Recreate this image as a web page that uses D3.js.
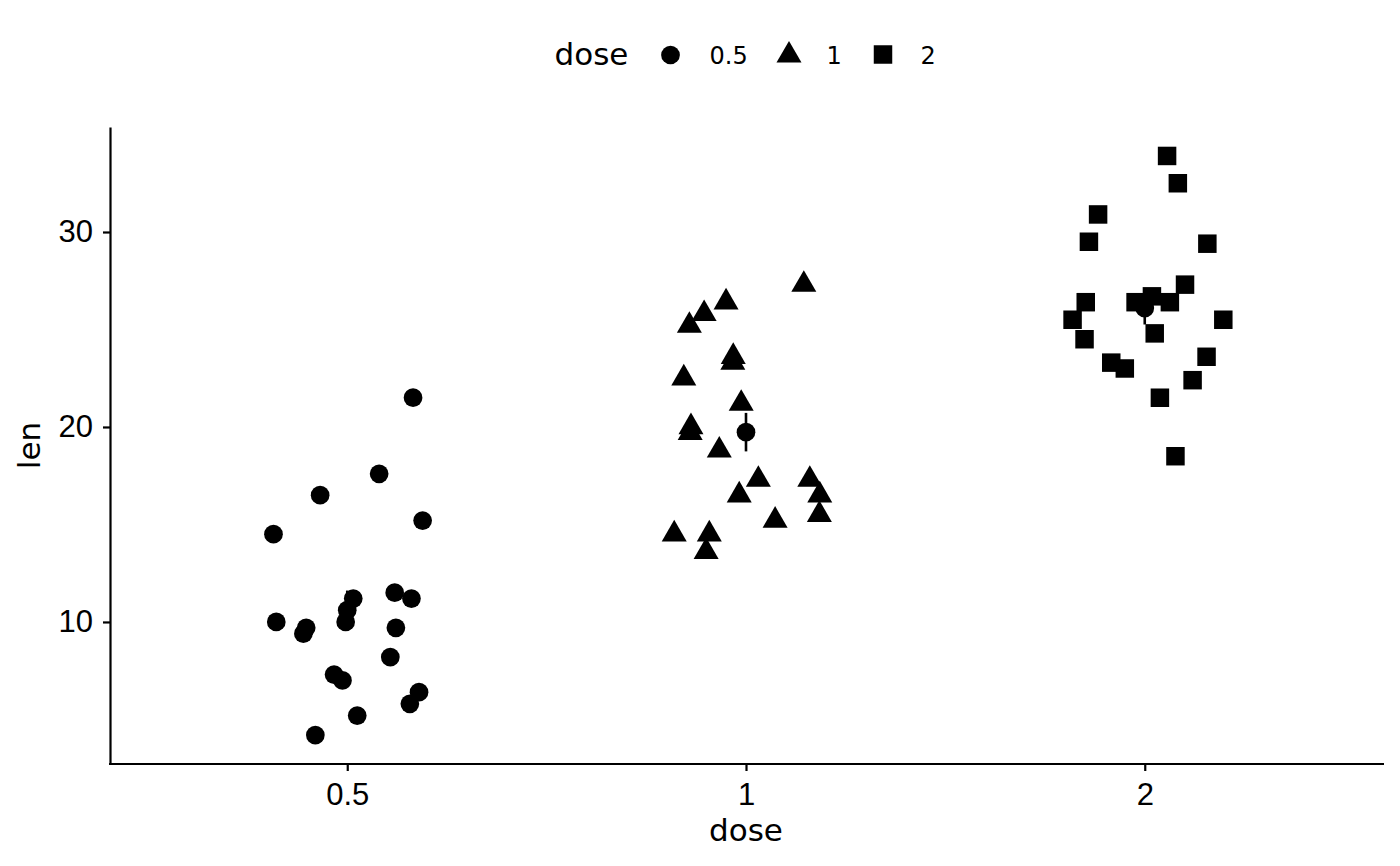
<!DOCTYPE html>
<html>
<head>
<meta charset="utf-8">
<script src="https://cdn.jsdelivr.net/npm/d3@7"></script>
<style>
  body { margin: 0; background: #fff; }
  svg { display: block; font-family: "DejaVu Sans", sans-serif; }
  .axis .domain, .axis .tick line { stroke: #000; stroke-width: 2.2; }
  .axis text { font-size: 31px; fill: #000; }
</style>
</head>
<body>
<svg id="chart" width="1400" height="866"></svg>
<script>
// dose categories
const doses = ["0.5", "1", "2"];

// tooth length per dose
const lenHalf = [21.5, 17.6, 16.5, 15.2, 14.5, 11.5, 11.2, 11.2, 10, 10, 9.7, 9.4, 9.7, 8.2, 7.3, 7.0, 6.4, 5.8, 5.2, 4.2];
const lenOne = [27.3, 26.4, 25.8, 25.2, 23.6, 23.3, 22.5, 21.2, 20, 19.7, 18.8, 17.3, 17.3, 16.5, 16.5, 15.2, 15.5, 14.5, 14.5, 13.6];
const lenTwo = [33.9, 32.5, 30.9, 29.5, 29.4, 27.3, 26.7, 26.4, 26.4, 26.4, 25.5, 25.5, 24.5, 24.8, 23.3, 23, 23.6, 22.4, 21.5, 18.5];

// horizontal jitter of each point (fraction of a category step)
const jitHalf = [0.165, 0.080, -0.068, 0.189, -0.185, 0.119, 0.161, 0.015, -0.004, -0.178, -0.103, -0.110, 0.122, 0.108, -0.033, -0.012, 0.180, 0.157, 0.025, -0.080];
const jitOne = [0.145, -0.050, -0.105, -0.142, -0.032, -0.033, -0.156, -0.012, -0.138, -0.140, -0.067, 0.031, 0.160, -0.017, 0.185, 0.073, 0.184, -0.180, -0.092, -0.100];
const jitTwo = [0.056, 0.083, -0.117, -0.140, 0.157, 0.101, 0.018, -0.023, 0.063, -0.148, -0.181, 0.197, -0.151, 0.025, -0.084, -0.050, 0.155, 0.120, 0.038, 0.077];

const yTicks = [10, 20, 30];

const svg = d3.select("#chart");
const margin = { top: 127, right: 16, bottom: 102, left: 108 };
const width = 1400, height = 866;

// build rows
const groups = [lenHalf, lenOne, lenTwo];
const jits = [jitHalf, jitOne, jitTwo];
const rows = [];
groups.forEach((g, i) => g.forEach((v, j) => rows.push({ dose: doses[i], len: v, jit: jits[i][j] })));

// shapes per dose
const shapes = { "0.5": d3.symbolCircle, "1": d3.symbolTriangle, "2": d3.symbolSquare };
const sizes = { "0.5": 275, "1": 271, "2": 342 };
const symbol = d => d3.symbol().type(shapes[d]).size(sizes[d])();

// scales
const x = d3.scalePoint()
    .domain(doses)
    .range([margin.left, width - margin.right])
    .padding(0.6);
const lo = d3.min(rows, d => d.len), hi = d3.max(rows, d => d.len);
const pad = (hi - lo) * 0.05;
const y = d3.scaleLinear()
    .domain([lo - pad, hi + pad])
    .range([height - margin.bottom, margin.top]);

// axes
svg.append("g")
    .attr("class", "axis")
    .attr("transform", `translate(0, ${height - margin.bottom})`)
    .call(d3.axisBottom(x).tickSize(7).tickSizeOuter(0).tickPadding(12))
    .call(g => g.select(".domain").attr("d", `M${margin.left + 1},0H${width - margin.right}`));
svg.append("g")
    .attr("class", "axis")
    .attr("transform", `translate(${margin.left + 2}, 0)`)
    .call(d3.axisLeft(y).tickValues(yTicks).tickSize(7).tickSizeOuter(0).tickPadding(10));

// axis titles
svg.append("text")
    .attr("x", x("1"))
    .attr("y", 841)
    .attr("text-anchor", "middle")
    .style("font-size", "31px")
    .text("dose");
svg.append("text")
    .attr("transform", `translate(40, ${(margin.top + height - margin.bottom) / 2}) rotate(-90)`)
    .attr("text-anchor", "middle")
    .style("font-size", "31px")
    .text("len");

// jittered points
svg.append("g")
    .selectAll("path")
    .data(rows)
    .join("path")
    .attr("d", d => symbol(d.dose))
    .attr("transform", d => `translate(${x(d.dose) + d.jit * x.step()}, ${y(d.len)})`)
    .attr("fill", "#000");

// mean +/- se per dose
const stats = doses.map((d, i) => {
    const m = d3.mean(groups[i]);
    const se = d3.deviation(groups[i]) / Math.sqrt(groups[i].length);
    return { dose: d, mean: m, lo: m - se, hi: m + se };
});
const summary = svg.append("g");
summary.selectAll("line")
    .data(stats)
    .join("line")
    .attr("x1", d => x(d.dose))
    .attr("x2", d => x(d.dose))
    .attr("y1", d => y(d.lo))
    .attr("y2", d => y(d.hi))
    .attr("stroke", "#000")
    .attr("stroke-width", 2.6);
summary.selectAll("path")
    .data(stats)
    .join("path")
    .attr("d", symbol("0.5"))
    .attr("transform", d => `translate(${x(d.dose)}, ${y(d.mean)})`)
    .attr("fill", "#000");

// legend
const legend = svg.append("g");
legend.append("text")
    .attr("x", 554.5)
    .attr("y", 65)
    .style("font-size", "31px")
    .text("dose");
const legendItems = [
    { dose: "0.5", sx: 670.5, sy: 55, tx: 709.5 },
    { dose: "1", sx: 789, sy: 55.4, tx: 826.5 },
    { dose: "2", sx: 883, sy: 54.5, tx: 920.5 }
];
legend.selectAll("path")
    .data(legendItems)
    .join("path")
    .attr("d", d => symbol(d.dose))
    .attr("transform", d => `translate(${d.sx}, ${d.sy})`)
    .attr("fill", "#000");
legend.selectAll("text.lab")
    .data(legendItems)
    .join("text")
    .attr("class", "lab")
    .attr("x", d => d.tx)
    .attr("y", 63.5)
    .style("font-size", "24px")
    .text(d => d.dose);
</script>
</body>
</html>
